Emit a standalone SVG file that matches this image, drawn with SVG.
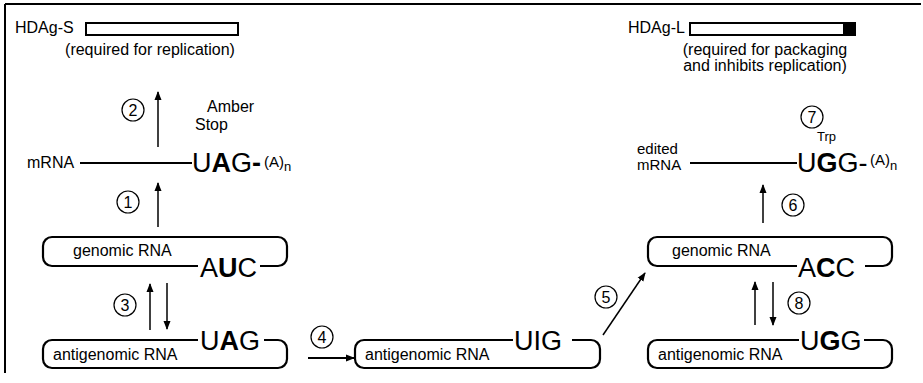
<svg xmlns="http://www.w3.org/2000/svg" width="923" height="383" viewBox="0 0 923 383">
<style>
text{font-family:"Liberation Sans",Arial,sans-serif;fill:#000}
.lbl{font-size:16px}
.cod{font-size:27px}
.b{font-weight:bold}
.num{font-size:16px;text-anchor:middle}
.box{fill:none;stroke:#000;stroke-width:2.2}
.ln{fill:none;stroke:#000;stroke-width:2}
.ar{fill:none;stroke:#000;stroke-width:1.5}
.circ{fill:#fff;stroke:#000;stroke-width:1.2}
</style>
<defs>
<marker id="ah" markerUnits="userSpaceOnUse" markerWidth="10" markerHeight="10" refX="8" refY="5" orient="auto">
<path d="M0,1.5 L9,5 L0,8.5 Z" fill="#000"/>
</marker>
</defs>

<g id="frame">
<line x1="5" y1="4" x2="921" y2="4" class="ln" stroke-width="1.5"/>
<line x1="5" y1="4" x2="5" y2="373" class="ln" stroke-width="1.5"/>
</g>

<g id="hdag-s">
<text x="15" y="33" class="lbl">HDAg-S</text>
<rect x="86" y="23" width="152" height="12" fill="#fff" stroke="#000" stroke-width="2"/>
<text x="150" y="55" class="lbl" text-anchor="middle">(required for replication)</text>
</g>

<g id="hdag-l">
<text x="628" y="33" class="lbl">HDAg-L</text>
<rect x="690" y="23" width="165" height="12" fill="#fff" stroke="#000" stroke-width="2"/>
<rect x="843" y="23" width="12" height="12" fill="#000"/>
<text x="765" y="55" class="lbl" text-anchor="middle">(required for packaging</text>
<text x="765" y="71" class="lbl" text-anchor="middle">and inhibits replication)</text>
</g>

<g id="mrna">
<text x="207" y="112" class="lbl">Amber</text>
<text x="195" y="130" class="lbl">Stop</text>
<text x="27" y="168" class="lbl">mRNA</text>
<line x1="80" y1="163" x2="192" y2="163" class="ln"/>
<text x="192" y="172" class="cod">U<tspan class="b">A</tspan>G<tspan class="b">-</tspan></text>
<text x="264" y="167" font-size="15">(A)<tspan font-size="13" dy="4">n</tspan></text>
</g>

<g id="edited-mrna">
<text x="817" y="141" font-size="13">Trp</text>
<text x="637" y="154" font-size="15">edited</text>
<text x="637" y="170" font-size="15">mRNA</text>
<line x1="690" y1="163" x2="797" y2="163" class="ln"/>
<text x="797" y="172" class="cod">U<tspan class="b">G</tspan>G-</text>
<text x="870" y="165" font-size="15">(A)<tspan font-size="13" dy="5">n</tspan></text>
</g>

<g id="genomic-left">
<path class="box" d="M198,266 H52 A9,9 0 0 1 43,257 V246 A9,9 0 0 1 52,237 H278 A9,9 0 0 1 287,246 V257 A9,9 0 0 1 278,266 H260"/>
<text x="73" y="256" class="lbl">genomic RNA</text>
<text x="200" y="277" class="cod">A<tspan class="b">U</tspan>C</text>
</g>

<g id="antigenomic-left">
<path class="box" d="M198,340 H52 A9,9 0 0 0 43,349 V359 A9,9 0 0 0 52,368 H278 A9,9 0 0 0 287,359 V349 A9,9 0 0 0 278,340 H264"/>
<text x="53" y="360" class="lbl">antigenomic RNA</text>
<text x="200" y="350" class="cod">U<tspan class="b">A</tspan>G</text>
</g>

<g id="antigenomic-mid">
<path class="box" d="M513,340 H364 A9,9 0 0 0 355,349 V359 A9,9 0 0 0 364,368 H591 A9,9 0 0 0 600,359 V349 A9,9 0 0 0 591,340 H572"/>
<text x="365" y="360" class="lbl">antigenomic RNA</text>
<text x="514" y="350" class="cod">UIG</text>
</g>

<g id="genomic-right">
<path class="box" d="M797,266 H657 A9,9 0 0 1 648,257 V246 A9,9 0 0 1 657,237 H883 A9,9 0 0 1 892,246 V257 A9,9 0 0 1 883,266 H865"/>
<text x="672" y="256" class="lbl">genomic RNA</text>
<text x="798" y="277" class="cod">A<tspan class="b">C</tspan>C</text>
</g>

<g id="antigenomic-right">
<path class="box" d="M799,340 H657 A9,9 0 0 0 648,349 V359 A9,9 0 0 0 657,368 H883 A9,9 0 0 0 892,359 V349 A9,9 0 0 0 883,340 H864"/>
<text x="658" y="360" class="lbl">antigenomic RNA</text>
<text x="800" y="350" class="cod">U<tspan class="b">G</tspan>G</text>
</g>

<g id="connectors">
<line x1="158" y1="147" x2="158" y2="92" class="ar" marker-end="url(#ah)"/>
<line x1="158" y1="227" x2="158" y2="183" class="ar" marker-end="url(#ah)"/>
<line x1="150" y1="330" x2="150" y2="284" class="ar" marker-end="url(#ah)"/>
<line x1="167" y1="283" x2="167" y2="329" class="ar" marker-end="url(#ah)"/>
<line x1="308" y1="358" x2="354" y2="358" class="ln" marker-end="url(#ah)"/>
<line x1="603" y1="335" x2="645" y2="273" class="ar" marker-end="url(#ah)"/>
<line x1="763" y1="223" x2="763" y2="185" class="ar" marker-end="url(#ah)"/>
<line x1="755" y1="325" x2="755" y2="282" class="ar" marker-end="url(#ah)"/>
<line x1="773" y1="282" x2="773" y2="325" class="ar" marker-end="url(#ah)"/>
</g>

<g id="steps">
<g id="step1"><circle cx="128" cy="202" r="11" class="circ"/><text x="128" y="208" class="num">1</text></g>
<g id="step2"><circle cx="133" cy="110" r="11" class="circ"/><text x="133" y="116" class="num">2</text></g>
<g id="step3"><circle cx="125" cy="305" r="11" class="circ"/><text x="125" y="311" class="num">3</text></g>
<g id="step4"><circle cx="322" cy="337" r="11" class="circ"/><text x="322" y="343" class="num">4</text></g>
<g id="step5"><circle cx="606" cy="297" r="11" class="circ"/><text x="606" y="303" class="num">5</text></g>
<g id="step6"><circle cx="793" cy="205" r="11" class="circ"/><text x="793" y="211" class="num">6</text></g>
<g id="step7"><circle cx="812" cy="117" r="11" class="circ"/><text x="812" y="123" class="num">7</text></g>
<g id="step8"><circle cx="799" cy="303" r="11" class="circ"/><text x="799" y="309" class="num">8</text></g>
</g>
</svg>
